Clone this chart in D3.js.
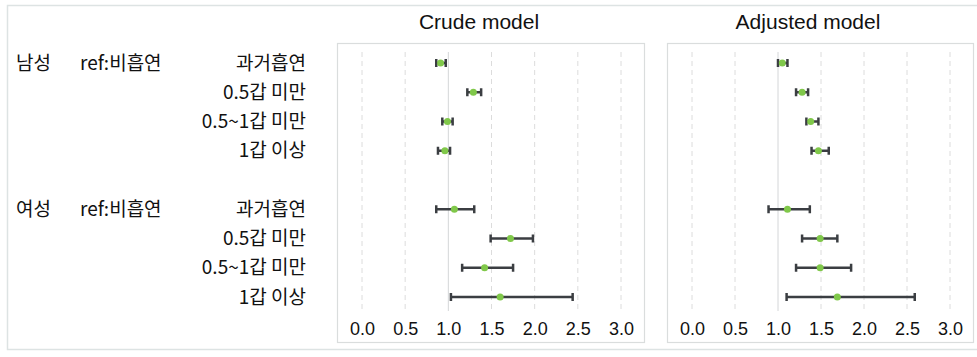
<!DOCTYPE html>
<html>
<head>
<meta charset="utf-8">
<script src="https://cdn.jsdelivr.net/npm/d3@7"></script>
<style>
  body{margin:0;background:#fff;}
  svg{display:block;}
</style>
</head>
<body>
<svg id="chart" width="977" height="357"></svg>
<script>
const groups=["남성","여성"];
const refLabel="ref:비흡연";
const levels=["과거흡연","0.5갑 미만","0.5~1갑 미만","1갑 이상"];
const panelTitles=["Crude model","Adjusted model"];
const ticks=[0,0.5,1,1.5,2,2.5,3];

// rows: 남성 x4, 여성 x4
const crudeOR=[0.91,1.29,0.99,0.96,1.07,1.72,1.42,1.60];
const crudeLo=[0.86,1.22,0.93,0.88,0.86,1.49,1.16,1.03];
const crudeHi=[0.97,1.38,1.05,1.02,1.30,1.98,1.75,2.44];
const adjOR=[1.05,1.28,1.38,1.47,1.11,1.49,1.49,1.69];
const adjLo=[1.00,1.21,1.33,1.39,0.89,1.28,1.21,1.10];
const adjHi=[1.11,1.35,1.47,1.59,1.37,1.69,1.85,2.59];

const svg=d3.select("#chart");
const fontLat="'Liberation Sans',Arial,sans-serif";
const fontKr="'Noto Sans CJK KR','Noto Sans',sans-serif";

// outer frame
svg.append("rect").attr("x",7.5).attr("y",5.5).attr("width",975).attr("height",344)
  .attr("fill","none").attr("stroke","#dde3e3").attr("stroke-width",1.5);

// 9 slots, slot 4 is the gap between groups
const slots=d3.range(9);
const slotOf=i=>i<4?i:i+1;
const y=d3.scalePoint().domain(slots).range([63,297]);

// row labels
const lab=svg.append("g").attr("font-family",fontKr).attr("font-size","19px").attr("fill","#111");
groups.forEach((g,gi)=>{
  const yy=y(slotOf(gi*4));
  lab.append("text").attr("x",16).attr("y",yy).attr("dy","0.35em").text(g);
  lab.append("text").attr("x",80).attr("y",yy).attr("dy","0.35em").text(refLabel);
  levels.forEach((l,li)=>{
    lab.append("text").attr("x",306).attr("y",y(slotOf(gi*4+li))).attr("dy","0.35em")
      .attr("text-anchor","end").text(l);
  });
});

const panels=[
  {title:panelTitles[0],x0:337,x1:644,titleX:479,or:crudeOR,lo:crudeLo,hi:crudeHi},
  {title:panelTitles[1],x0:667,x1:973,titleX:808,or:adjOR,lo:adjLo,hi:adjHi}
];

panels.forEach(p=>{
  const g=svg.append("g");
  const x=d3.scaleLinear().domain([0,3]).range([p.x0+25,p.x1-23]);

  g.append("rect").attr("x",p.x0+0.5).attr("y",43.5).attr("width",p.x1-p.x0).attr("height",299)
    .attr("fill","#fff").attr("stroke","#dadddd").attr("stroke-width",1.2);

  g.append("text").attr("x",p.titleX).attr("y",29).attr("text-anchor","middle")
    .attr("font-family",fontLat).attr("font-size","21px").attr("fill","#111").text(p.title);

  // grid
  g.selectAll(".grid").data(ticks).enter().append("line")
    .attr("x1",d=>x(d)).attr("x2",d=>x(d)).attr("y1",52).attr("y2",311)
    .attr("stroke",d=>d===1?"#d4d6d8":"#dcdcdc")
    .attr("stroke-width",1)
    .attr("stroke-dasharray",d=>d===1?null:"5,4");

  // axis labels
  const ax=g.append("g").attr("transform","translate(0,329)")
    .call(d3.axisBottom(x).tickValues(ticks).tickFormat(d3.format(".1f")).tickSize(0).tickPadding(0));
  ax.select(".domain").remove();
  ax.selectAll("text").attr("font-family",fontLat).attr("font-size","18px").attr("fill","#111")
    .attr("dy","0.35em");

  const rows=p.or.map((v,i)=>({v,lo:p.lo[i],hi:p.hi[i],s:slotOf(i)}));
  const ci=g.selectAll(".ci").data(rows).enter().append("g").attr("stroke","#3b3e42").attr("stroke-width",2.5);
  ci.append("line").attr("x1",d=>x(d.lo)).attr("x2",d=>x(d.hi)).attr("y1",d=>y(d.s)).attr("y2",d=>y(d.s));
  ci.append("line").attr("x1",d=>x(d.lo)).attr("x2",d=>x(d.lo)).attr("y1",d=>y(d.s)-4).attr("y2",d=>y(d.s)+4);
  ci.append("line").attr("x1",d=>x(d.hi)).attr("x2",d=>x(d.hi)).attr("y1",d=>y(d.s)-4).attr("y2",d=>y(d.s)+4);

  g.selectAll(".pt").data(rows).enter().append("circle")
    .attr("cx",d=>x(d.v)).attr("cy",d=>y(d.s)).attr("r",3.5).attr("fill","#80c84a");
});
</script>
</body>
</html>
